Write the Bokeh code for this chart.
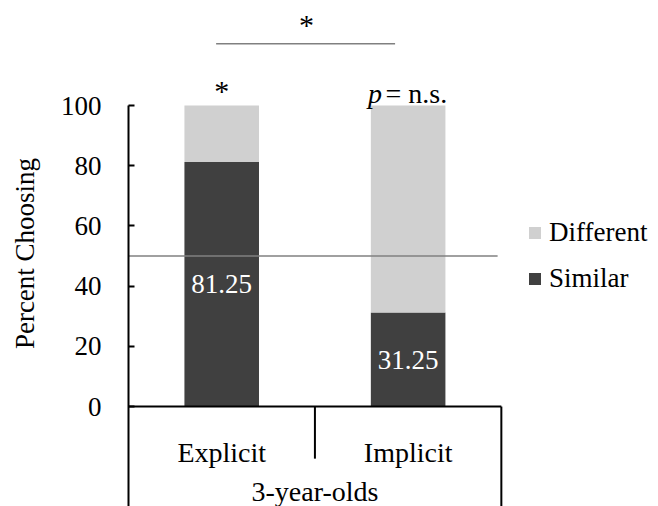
from bokeh.plotting import figure
from bokeh.models import Range1d, FixedTicker, ColumnDataSource, Legend, LegendItem
from bokeh.core.properties import value
from bokeh.embed import file_html
from bokeh.resources import INLINE

# ---- data ----
categories = ["Explicit", "Implicit"]
similar = [81.25, 31.25]
different = [18.75, 68.75]
bar_labels = ["81.25", "31.25"]
group_label = "3-year-olds"
y_ticks = [0, 20, 40, 60, 80, 100]
chance_level = 50
within_sig = ["*", "n.s."]
between_sig = "*"

FONT = "Liberation Serif"
DARK = "#404040"
LIGHT = "#d0d0d0"
GRAY = "#808080"

Y_MIN, Y_MAX = -33.2, 134.9
n = len(categories)
xs = [i + 0.5 for i in range(n)]

p = figure(width=658, height=506,
           x_range=Range1d(0, 2.843), y_range=Range1d(Y_MIN, Y_MAX),
           x_axis_location=None,
           output_backend="svg", toolbar_location=None,
           min_border_left=128, min_border_right=0,
           min_border_top=0, min_border_bottom=0)
p.outline_line_color = None
p.grid.grid_line_color = None

ax = p.yaxis[0]
ax.ticker = FixedTicker(ticks=y_ticks)
ax.bounds = (Y_MIN, max(y_ticks))
ax.axis_line_color = "black"
ax.axis_line_width = 2
ax.major_tick_in = 6
ax.major_tick_out = 0
ax.major_tick_line_width = 2
ax.minor_tick_line_color = None
ax.major_label_standoff = 27
ax.major_label_text_font = FONT
ax.major_label_text_font_size = "27px"
ax.major_label_text_color = "black"
ax.axis_label = "Percent Choosing"
ax.axis_label_text_font = FONT
ax.axis_label_text_font_style = "normal"
ax.axis_label_text_font_size = "27px"
ax.axis_label_text_color = "black"
ax.axis_label_standoff = 18

src = ColumnDataSource(dict(x=xs, Similar=similar, Different=different,
                            lab=bar_labels, ly=[v / 2 for v in similar]))
rs = p.vbar_stack(["Similar", "Different"], x="x", width=0.4,
                  color=[DARK, LIGHT], line_color=None, source=src)

# bar value labels
p.text(x="x", y="ly", text="lab", source=src, text_color="white",
       text_font=value(FONT), text_font_size="27px",
       text_align="center", text_baseline="middle")

# chance line
p.segment(x0=[0], y0=[chance_level], x1=[n - 0.02], y1=[chance_level],
          line_color=GRAY, line_width=1.5)

# category box
p.segment(x0=[0, 1, n], y0=[0, 0, 0], x1=[n, 1, n], y1=[0, -17.3, Y_MIN],
          line_color="black", line_width=2)
p.text(x=xs, y=[-15.3] * n, text=categories, text_font=value(FONT),
       text_font_size="28px", text_align="center", text_baseline="alphabetic",
       text_color="black")
p.text(x=[n / 2], y=[-28.3], text=[group_label], text_font=value(FONT),
       text_font_size="28px", text_align="center", text_baseline="alphabetic",
       text_color="black")

# significance marks
p.text(x=[0.5], y=[104.9], text=[within_sig[0]], text_font=value(FONT),
       text_font_size="30px", text_align="center", text_baseline="middle")
p.text(x=[1.36], y=[104.0], text=["p"], text_font=value(FONT),
       text_font_style="italic", text_font_size="28px",
       text_align="right", text_baseline="alphabetic")
p.text(x=[1.379], y=[104.0], text=["= " + within_sig[1]], text_font=value(FONT),
       text_font_size="28px", text_align="left", text_baseline="alphabetic")
p.segment(x0=[0.47], y0=[120.5], x1=[1.43], y1=[120.5],
          line_color=GRAY, line_width=1.5)
p.text(x=[0.955], y=[127.0], text=[between_sig], text_font=value(FONT),
       text_font_size="30px", text_align="center", text_baseline="middle")

legend = Legend(items=[LegendItem(label="Different", renderers=[rs[1]]),
                       LegendItem(label="Similar", renderers=[rs[0]])],
                location=(399, 212), orientation="vertical",
                padding=0, margin=0, spacing=15,
                glyph_width=15, glyph_height=15, label_standoff=7,
                label_text_font=FONT, label_text_font_size="27px",
                label_text_color="black",
                border_line_color=None, background_fill_alpha=0)
p.add_layout(legend)

open("out.html", "w").write(file_html(p, INLINE))
